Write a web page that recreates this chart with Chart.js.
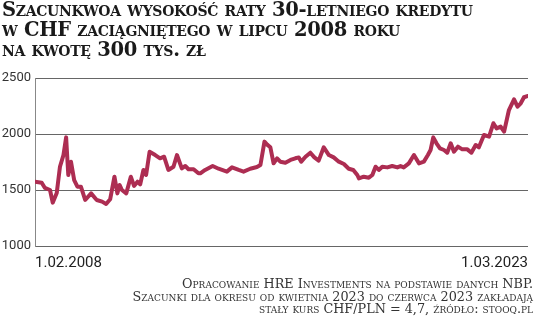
<!DOCTYPE html>
<html>
<head>
<meta charset="utf-8">
<script src="https://cdn.jsdelivr.net/npm/chart.js@4/dist/chart.umd.min.js"></script>
<style>
  body { margin: 0; background: #fff; }
  .wrap { position: relative; width: 536px; height: 323px; overflow: hidden; }
  .title {
    position: absolute; left: 2px; top: 0px;
    font-family: "DejaVu Serif", serif; font-weight: bold; font-variant: small-caps;
    font-size: 19.5px; line-height: 20px; color: #1a1a1a; letter-spacing: -0.3px;
  }
  .foot {
    position: absolute; right: 3px; top: 278px; text-align: right;
    font-family: "DejaVu Serif", serif; font-variant: small-caps;
    font-size: 12.8px; line-height: 12.5px; color: #333;
  }
  #chart { position: absolute; left: 0; top: 0; }
</style>
</head>
<body>
<div class="wrap">
  <canvas id="chart" width="536" height="323"></canvas>
  <div class="title">Szacunkwoa wysokość raty 30-letniego kredytu<br>w CHF zaciągniętego w lipcu 2008 roku<br>na kwotę 300 tys. zł</div>
  <div class="foot">Opracowanie HRE Investments na podstawie danych NBP.<br>Szacunki dla okresu od kwietnia 2023 do czerwca 2023 zakładają<br>stały kurs CHF/PLN = 4,7, źródło: stooq.pl</div>
</div>
<script>
// months counted from 1.02.2008
const months = [
  0.0, 2.5, 3.7, 5.6, 6.6, 8.1, 9.3, 10.6, 11.6, 12.4, 13.4, 14.6, 15.8, 17.1, 18.7, 20.9,
  23.0, 25.0, 26.5, 28.0, 29.6, 30.7, 31.5, 32.4, 34.0, 35.7, 36.9, 38.2, 39.2, 40.4, 41.4,
  42.7, 44.8, 46.6, 48.1, 49.7, 51.6, 52.9, 54.7, 56.0, 57.2, 59.1, 60.9,
  61.6, 63.4, 66.2, 68.4, 71.5, 73.4, 75.9, 77.7, 80.2, 82.7, 84.0, 85.5, 86.5, 87.7, 88.9,
  90.2, 91.4, 93.3, 95.2, 97.0, 98.3, 99.2, 100.8, 102.6, 104.1, 105.7, 107.6, 109.5, 111.3,
  113.2, 115.1, 116.9, 118.6, 120.1,
  120.7, 122.5, 124.4, 125.7, 126.9, 128.1, 129.4, 131.3, 133.1, 135.0, 136.2, 137.4, 139.3,
  141.2, 143.1, 144.9, 146.4, 147.4, 148.4, 149.6, 150.9, 152.4, 153.6, 154.9, 156.1, 157.6,
  159.2, 161.1, 162.6, 164.2, 165.4, 167.3, 169.2, 170.8, 172.0, 173.5, 174.8, 176.6, 178.5,
  179.8, 181.0, 182.2, 183.7
];
const rata = [
  1574, 1565, 1518, 1500, 1387, 1473, 1708, 1812, 1970, 1634, 1753, 1589, 1530, 1530, 1411, 1470,
  1411, 1396, 1375, 1417, 1619, 1470, 1545, 1500, 1470, 1619, 1536, 1574, 1550, 1679, 1634,
  1842, 1812, 1783, 1797, 1679, 1708, 1812, 1693, 1714, 1685, 1685, 1649,
  1649, 1679, 1714, 1690, 1664, 1702, 1679, 1664, 1690, 1705, 1723, 1932, 1905, 1881, 1738,
  1783, 1753, 1744, 1768, 1783, 1791, 1753, 1797, 1833, 1791, 1762, 1881, 1812, 1791,
  1753, 1732, 1690, 1679, 1634,
  1604, 1619, 1610, 1634, 1708, 1679, 1708, 1702, 1714, 1702, 1714, 1702, 1738,
  1812, 1738, 1753, 1812, 1857, 1970, 1917, 1872, 1857, 1833, 1917, 1842, 1887,
  1863, 1863, 1833, 1902, 1881, 1991, 1976, 2096, 2050, 2066, 2021, 2214, 2310,
  2244, 2274, 2328, 2340
];
const xLabels = ['1.02.2008', '1.03.2023'];
const yTicks = [1000, 1500, 2000, 2500];

const pts = months.map((m, i) => ({x: m, y: rata[i]}));

new Chart(document.getElementById('chart'), {
  type: 'line',
  data: {
    datasets: [{
      data: pts,
      borderColor: '#ad2d52',
      borderWidth: 4,
      pointRadius: 0,
      tension: 0,
      borderJoinStyle: 'round',
      borderCapStyle: 'round'
    }]
  },
  options: {
    responsive: false,
    animation: false,
    layout: {padding: {top: 78, right: 8, bottom: 47, left: 0}},
    plugins: {legend: {display: false}, tooltip: {enabled: false}},
    scales: {
      x: {
        type: 'linear',
        min: 0,
        max: 183.7,
        afterBuildTicks: ax => { ax.ticks = [{value: ax.min}, {value: ax.max}]; },
        afterFit: ax => { ax.height = 30; },
        grid: {display: false, drawTicks: false},
        border: {display: false},
        ticks: {
          align: 'inner',
          maxRotation: 0,
          padding: 8,
          color: '#222',
          font: {family: 'Roboto', size: 15},
          callback: (v, i) => xLabels[i]
        }
      },
      y: {
        min: 1000,
        max: 2500,
        afterBuildTicks: ax => { ax.ticks = yTicks.map(v => ({value: v})); },
        afterFit: ax => { ax.width = 35; },
        grid: {color: '#666', lineWidth: 1, drawTicks: false},
        border: {display: true, color: '#888', width: 1},
        ticks: {
          padding: 4,
          color: '#333',
          font: {family: 'Roboto', size: 13},
          callback: v => String(v)
        }
      }
    }
  }
});
</script>
</body>
</html>
